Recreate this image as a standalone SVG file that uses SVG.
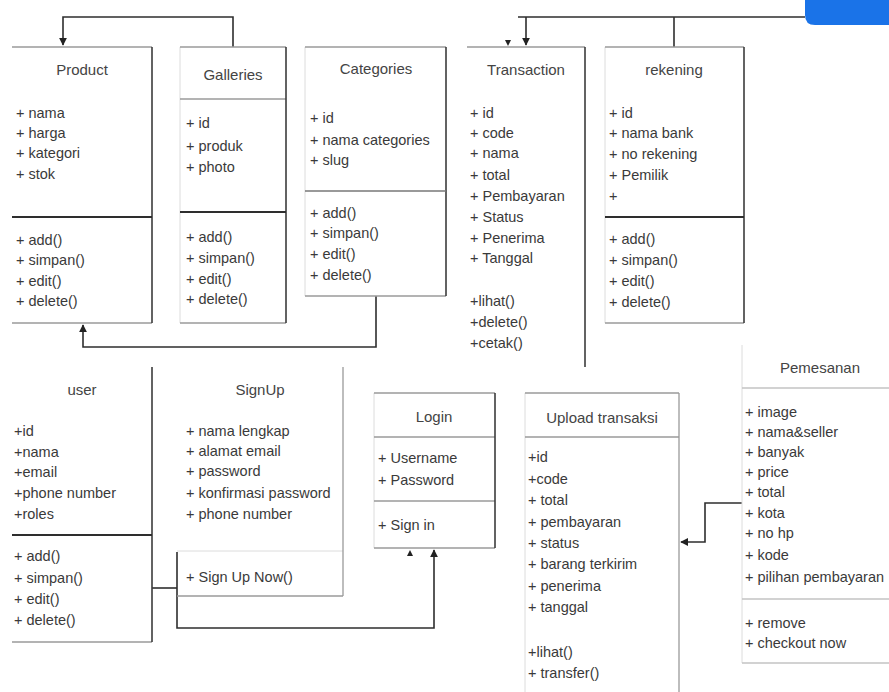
<svg xmlns="http://www.w3.org/2000/svg" width="889" height="692" viewBox="0 0 889 692">
<defs>
<style>
text{font-family:"Liberation Sans",Arial,sans-serif;font-size:14.5px;fill:#3a3a3a}
.t{font-size:15px;text-anchor:middle;fill:#444}
.e{stroke:#9a9a9a;stroke-width:1.3;fill:none}
.l{stroke:#dcdcdc;stroke-width:1;fill:none}
.r{stroke:#3c3c3c;stroke-width:1.6;fill:none}
.s{stroke:#2e2e2e;stroke-width:2;fill:none}
.c{stroke:#2e2e2e;stroke-width:1.6;fill:none}
</style>
<marker id="ah" viewBox="0 0 10 10" refX="9" refY="5" markerWidth="5" markerHeight="5" orient="auto">
<path d="M0,0 L10,5 L0,10 z" fill="#222"/>
</marker>
</defs>
<rect width="889" height="692" fill="#fff"/>
<path d="M805,0 H889 V25 H815 Q805,25 805,15 Z" fill="#1a73e8"/>

<g id="connectors">
<path class="c" d="M233,47 V17 H63 V45" marker-end="url(#ah)"/>
<path class="c" d="M376,296 V347 H83 V325" marker-end="url(#ah)"/>
<path class="c" d="M805,17 H518 M526,17 V45" marker-end="url(#ah)"/>
<path d="M505,40 L511,40 L508,46 z" fill="#222"/>
<path class="c" d="M674,17 V47"/>
<path class="c" d="M152,588 H177"/>
<path class="c" d="M177,552 V628 H434 V550" marker-end="url(#ah)"/>
<path d="M407,556 L413,556 L410,550 z" fill="#222"/>
<path class="c" d="M742,503 H705 V542 H681" marker-end="url(#ah)"/>
</g>

<g id="product">
<path class="e" d="M12,47 H152 M12,323 H152"/>
<path class="r" d="M152,47 V323"/>
<path class="s" d="M12,217 H152"/>
<text class="t" x="82" y="75">Product</text>
<text x="16" y="118">+ nama</text>
<text x="16" y="138">+ harga</text>
<text x="16" y="158">+ kategori</text>
<text x="16" y="179">+ stok</text>
<text x="16" y="245">+ add()</text>
<text x="16" y="265">+ simpan()</text>
<text x="16" y="286">+ edit()</text>
<text x="16" y="306">+ delete()</text>
</g>

<g id="galleries">
<path class="l" d="M180,47 V323"/>
<path class="e" d="M180,47 H286 M180,99 H286 M180,323 H286"/>
<path class="r" d="M286,47 V323"/>
<path class="s" d="M180,212 H286"/>
<text class="t" x="233" y="80">Galleries</text>
<text x="186" y="128">+ id</text>
<text x="186" y="151">+ produk</text>
<text x="186" y="172">+ photo</text>
<text x="186" y="242">+ add()</text>
<text x="186" y="263">+ simpan()</text>
<text x="186" y="284">+ edit()</text>
<text x="186" y="304">+ delete()</text>
</g>

<g id="categories">
<path class="l" d="M305,47 V296"/>
<path class="e" d="M305,47 H446 M305,296 H446"/>
<path class="r" d="M446,47 V296"/>
<path class="e" d="M305,191 H446" style="stroke:#777"/>
<text class="t" x="376" y="74">Categories</text>
<text x="310" y="123">+ id</text>
<text x="310" y="145">+ nama categories</text>
<text x="310" y="165">+ slug</text>
<text x="310" y="218">+ add()</text>
<text x="310" y="238">+ simpan()</text>
<text x="310" y="259">+ edit()</text>
<text x="310" y="280">+ delete()</text>
</g>

<g id="transaction">
<path class="e" d="M467,47 H585"/>
<path class="r" d="M585,47 V367"/>
<text class="t" x="526" y="75">Transaction</text>
<text x="470" y="118">+ id</text>
<text x="470" y="138">+ code</text>
<text x="470" y="158">+ nama</text>
<text x="470" y="180">+ total</text>
<text x="470" y="201">+ Pembayaran</text>
<text x="470" y="222">+ Status</text>
<text x="470" y="243">+ Penerima</text>
<text x="470" y="263">+ Tanggal</text>
<text x="470" y="306">+lihat()</text>
<text x="470" y="327">+delete()</text>
<text x="470" y="348">+cetak()</text>
</g>

<g id="rekening">
<path class="l" d="M605,47 V323"/>
<path class="e" d="M605,47 H744 M605,323 H744"/>
<path class="r" d="M744,47 V323"/>
<path class="s" d="M605,217 H744"/>
<text class="t" x="674" y="75">rekening</text>
<text x="609" y="118">+ id</text>
<text x="609" y="138">+ nama bank</text>
<text x="609" y="159">+ no rekening</text>
<text x="609" y="180">+ Pemilik</text>
<text x="609" y="201">+</text>
<text x="609" y="244">+ add()</text>
<text x="609" y="265">+ simpan()</text>
<text x="609" y="286">+ edit()</text>
<text x="609" y="307">+ delete()</text>
</g>

<g id="user">
<path class="e" d="M12,642 H152"/>
<path class="r" d="M152,367 V642"/>
<path class="s" d="M12,535 H152"/>
<text class="t" x="82" y="395">user</text>
<text x="14" y="436">+id</text>
<text x="14" y="457">+nama</text>
<text x="14" y="477">+email</text>
<text x="14" y="498">+phone number</text>
<text x="14" y="519">+roles</text>
<text x="14" y="561">+ add()</text>
<text x="14" y="583">+ simpan()</text>
<text x="14" y="604">+ edit()</text>
<text x="14" y="625">+ delete()</text>
</g>

<g id="signup">
<path class="e" d="M177,596 H343"/>
<path class="l" d="M177,551 H343"/>
<path class="e" d="M343,367 V596"/>
<text class="t" x="260" y="395">SignUp</text>
<text x="186" y="436">+ nama lengkap</text>
<text x="186" y="456">+ alamat email</text>
<text x="186" y="476">+ password</text>
<text x="186" y="498">+ konfirmasi password</text>
<text x="186" y="519">+ phone number</text>
<text x="186" y="582">+  Sign Up Now()</text>
</g>

<g id="login">
<path class="l" d="M374,393 V548"/>
<path class="e" d="M374,393 H495 M374,437 H495 M374,501 H495 M374,548 H495"/>
<path class="r" d="M495,393 V548"/>
<text class="t" x="434" y="422">Login</text>
<text x="378" y="463">+ Username</text>
<text x="378" y="485">+ Password</text>
<text x="378" y="530">+ Sign in</text>
</g>

<g id="upload">
<path class="l" d="M525,393 V692"/>
<path class="e" d="M525,393 H679 M525,437 H679"/>
<path class="e" d="M679,393 V692"/>
<text class="t" x="602" y="423">Upload transaksi</text>
<text x="528" y="462">+id</text>
<text x="528" y="484">+code</text>
<text x="528" y="505">+ total</text>
<text x="528" y="527">+ pembayaran</text>
<text x="528" y="548">+ status</text>
<text x="528" y="569">+ barang terkirim</text>
<text x="528" y="591">+  penerima</text>
<text x="528" y="612">+ tanggal</text>
<text x="528" y="657">+lihat()</text>
<text x="528" y="678">+ transfer()</text>
</g>

<g id="pemesanan">
<path class="l" d="M742,345 V663"/>
<path class="e" d="M742,388 H889 M742,599 H889 M742,663 H889" style="stroke:#c4c4c4"/>
<text class="t" x="820" y="373">Pemesanan</text>
<text x="745" y="417">+ image</text>
<text x="745" y="437">+ nama&amp;seller</text>
<text x="745" y="457">+ banyak</text>
<text x="745" y="477">+ price</text>
<text x="745" y="497">+ total</text>
<text x="745" y="518">+ kota</text>
<text x="745" y="538">+ no hp</text>
<text x="745" y="560">+ kode</text>
<text x="745" y="582">+ pilihan pembayaran</text>
<text x="745" y="628">+ remove</text>
<text x="745" y="648">+ checkout now</text>
</g>
</svg>
